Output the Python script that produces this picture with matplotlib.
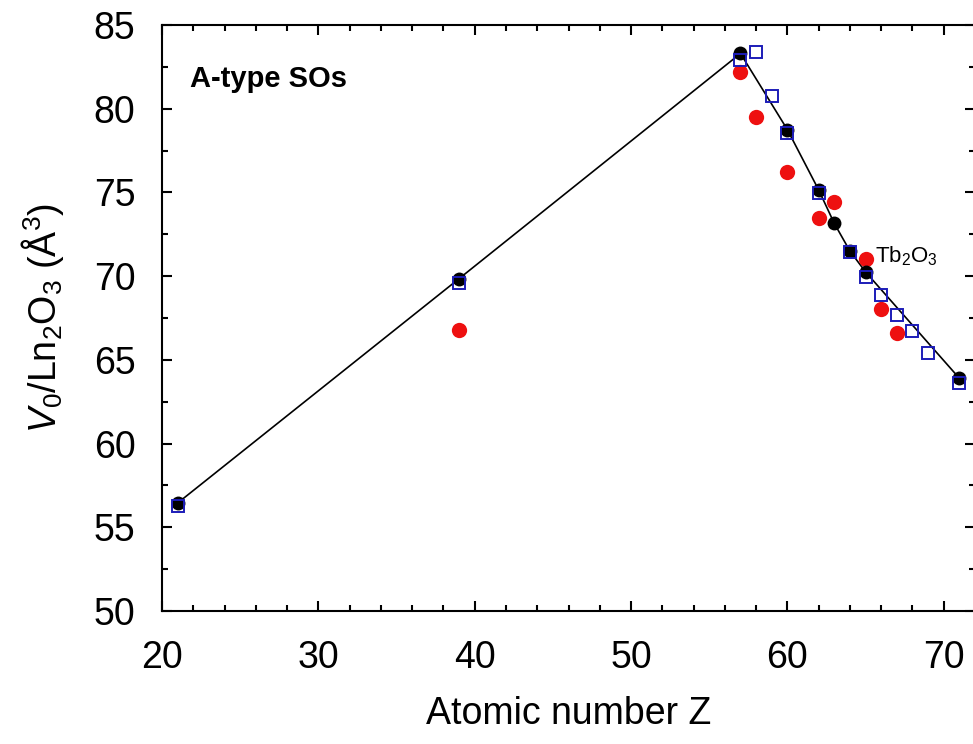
import matplotlib
matplotlib.use('Agg')
import matplotlib.pyplot as plt
from matplotlib.ticker import MultipleLocator

plt.rcParams['font.family'] = 'Liberation Sans'
plt.rcParams['mathtext.fontset'] = 'custom'
plt.rcParams['mathtext.rm'] = 'Liberation Sans'
plt.rcParams['mathtext.it'] = 'Liberation Sans:italic'

# black circles (joined by the line)
z_black = [21, 39, 57, 60, 62, 63, 64, 65, 71]
v_black = [56.45, 69.85, 83.3, 78.75, 75.15, 73.15, 71.5, 70.25, 63.9]

# red circles
z_red = [39, 57, 58, 60, 62, 63, 65, 66, 67]
v_red = [66.8, 82.2, 79.5, 76.25, 73.45, 74.45, 71.05, 68.05, 66.6]

# blue open squares
z_blue = [21, 39, 57, 58, 59, 60, 62, 64, 65, 66, 67, 68, 69, 71]
v_blue = [56.3, 69.6, 82.9, 83.4, 80.75, 78.55, 74.95, 71.45, 69.95, 68.9, 67.7, 66.7, 65.4, 63.6]

fig = plt.figure(figsize=(9.73, 7.44), dpi=100)
ax = fig.add_axes([162/973, (744-611)/744, (975-162)/973, 586/744])

ax.plot(z_black, v_black, color='black', lw=1.2, zorder=2)
ax.plot(z_red, v_red, 'o', color='#ee1010', ms=11, mec='none', zorder=3)
ax.plot(z_black, v_black, 'o', color='black', ms=10, mec='none', zorder=4)
ax.plot(z_blue, v_blue, 's', mfc='none', mec='#1c1cb8', ms=9, mew=1.4, zorder=5)

ax.set_xlim(20, 72)
ax.set_ylim(50, 85)
ax.xaxis.set_major_locator(MultipleLocator(10))
ax.xaxis.set_minor_locator(MultipleLocator(2))
ax.yaxis.set_major_locator(MultipleLocator(5))
ax.yaxis.set_minor_locator(MultipleLocator(2.5))
ax.tick_params(which='both', direction='in', top=True, right=True, width=1.5)
ax.tick_params(which='major', length=7, labelsize=27)
ax.tick_params(axis='x', which='major', pad=21)
ax.tick_params(axis='y', which='major', pad=19)
ax.tick_params(which='minor', length=4.5)
for s in ax.spines.values():
    s.set_linewidth(1.5)

ax.set_xlabel('Atomic number Z', fontsize=27, labelpad=14)
ax.set_ylabel(r'$V_0$/Ln$_2$O$_3$ (Å$^3$)', fontsize=27, labelpad=20)

ax.text(21.8, 81.8, 'A-type SOs', fontsize=21, fontweight='bold', va='center')
ax.text(65.6, 71.2, r'Tb$_2$O$_3$', fontsize=16, va='center')

fig.savefig('out.png', dpi=100)
